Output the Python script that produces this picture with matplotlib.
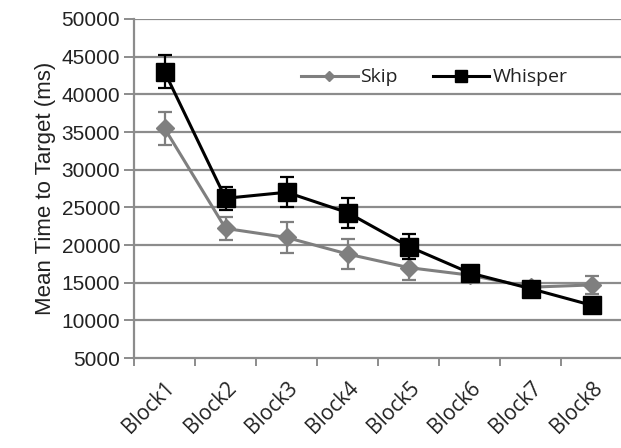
import matplotlib
matplotlib.use('Agg')
import matplotlib.pyplot as plt
from matplotlib.lines import Line2D

# data
blocks = ['Block1', 'Block2', 'Block3', 'Block4',
          'Block5', 'Block6', 'Block7', 'Block8']
skip_mean = [35500, 22200, 21000, 18800, 17000, 16000, 14400, 14700]
skip_err = [2200, 1500, 2000, 2000, 1600, 800, 600, 1200]
whisper_mean = [43000, 26200, 27000, 24300, 19800, 16300, 14200, 12000]
whisper_err = [2200, 1500, 2000, 2000, 1600, 800, 800, 1000]
yticks = list(range(5000, 50001, 5000))


def main():
    fig = plt.figure(figsize=(6.21, 4.48), dpi=100)
    ax = fig.add_axes([134 / 621, 1 - 358 / 448, 1 - 134 / 621 + 0.002,
                       (358 - 19) / 448])
    x = list(range(len(blocks)))

    # gridlines
    for y in yticks[1:]:
        ax.axhline(y, color='#8c8c8c', lw=1.6, zorder=0)

    grey = '#7f7f7f'
    ax.errorbar(x, skip_mean, yerr=skip_err, color=grey, lw=2.2,
                marker='D', ms=9, mfc=grey, mec=grey, ecolor=grey,
                elinewidth=1.6, capsize=5, capthick=1.6, zorder=3)
    ax.errorbar(x, whisper_mean, yerr=whisper_err, color='black', lw=2.2,
                marker='s', ms=13, mfc='black', mec='black', ecolor='black',
                elinewidth=1.6, capsize=5, capthick=1.6, zorder=4)

    ax.set_xlim(-0.5, len(blocks) - 0.5)
    ax.set_ylim(5000, 50000)
    ax.set_yticks(yticks)
    ax.set_yticklabels([str(v) for v in yticks],
                       fontsize=15, family='Liberation Sans', color='#222222')
    ax.set_xticks(x)
    ax.set_xticklabels(blocks, rotation=45, ha='right', rotation_mode='anchor',
                       fontsize=15, family='Open Sans', color='#222222')
    ax.set_xticks([i + 0.5 for i in range(-1, len(blocks))], minor=True)
    ax.tick_params(axis='x', which='major', length=0, pad=14)
    ax.tick_params(axis='x', which='minor', length=6, width=1.4,
                   color='#8c8c8c')
    ax.tick_params(axis='y', length=7, width=1.4, color='#8c8c8c', pad=3)

    for side in ['top', 'right']:
        ax.spines[side].set_visible(False)
    for side in ['left', 'bottom']:
        ax.spines[side].set_color('#8c8c8c')
        ax.spines[side].set_linewidth(1.6)

    ax.set_ylabel('Mean Time to Target (ms)', fontsize=16,
                  family='Liberation Sans', color='#222222', labelpad=4)

    handles = [Line2D([], [], color=grey, lw=2.2, marker='D', ms=5,
                      mfc=grey, mec=grey),
               Line2D([], [], color='black', lw=2.2, marker='s', ms=8,
                      mfc='black')]
    leg = ax.legend(handles, ['Skip', 'Whisper'], ncol=2, frameon=False,
                    loc='center', bbox_to_anchor=(0.615, 0.828),
                    prop={'family': 'Open Sans', 'size': 14},
                    handlelength=2.9, handletextpad=0.15, columnspacing=1.8)
    for t in leg.get_texts():
        t.set_color('#222222')

    plt.savefig('out.png', dpi=100)


if __name__ == '__main__':
    main()
